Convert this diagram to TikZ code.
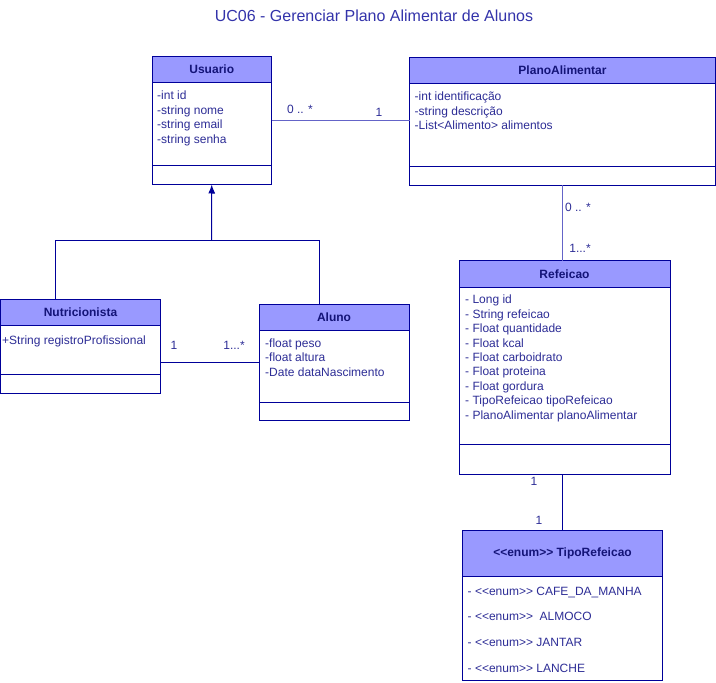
\documentclass[tikz,border=0pt]{standalone}
\usepackage{fontspec}
\setmainfont{Liberation Sans}
\usetikzlibrary{positioning,arrows.meta}

\definecolor{umlline}{RGB}{0,0,153}
\definecolor{umlfill}{RGB}{153,153,255}
\definecolor{umlhead}{RGB}{20,20,120}
\definecolor{umltext}{RGB}{45,45,150}
\definecolor{assocline}{RGB}{100,100,200}
\definecolor{titletext}{RGB}{51,51,170}

\newcommand\stereo[1]{{<}{<}#1{>}{>}}

\begin{document}
\begin{tikzpicture}[
    x=1pt, y=-1pt,
    header/.style={draw=umlline, fill=umlfill, line width=1pt, outer sep=0pt, inner sep=0pt, anchor=north west, text=umlhead, font=\fontsize{12}{14}\selectfont\bfseries},
    compart/.style={draw=umlline, fill=white, line width=1pt, outer sep=0pt, inner sep=0pt},
    attr/.style={anchor=north west, inner sep=0pt, align=left, text=umltext, font=\fontsize{12}{14.4}\selectfont},
    mult/.style={inner sep=0pt, text=umltext, font=\fontsize{12}{14}\selectfont},
    link/.style={draw=umlline, line width=1pt},
    assoc/.style={draw=assocline, line width=1pt},
    gen/.style={link, -{Latex[length=9pt,width=7pt]}}
]
\useasboundingbox (0,0) rectangle (716,683);

% Title
\node[text=titletext, font=\fontsize{16}{18}\selectfont] (title) at (374,16) {UC06 - Gerenciar Plano Alimentar de Alunos};

% Define classes
\node[header, minimum width=119.5pt, minimum height=26pt] (usuario) at (152,56.5) {\raisebox{-1pt}{Usuario}};
\node[compart, below=0pt of usuario, minimum width=119.5pt, minimum height=83pt] (usuarioA) {};
\node[compart, below=0pt of usuarioA, minimum width=119.5pt, minimum height=19pt] (usuarioM) {};
\node[attr] (usuarioT) at ([xshift=5pt,yshift=-8.5pt]usuarioA.north west) {-int id\\-string nome\\-string email\\-string senha};

\node[header, minimum width=306pt, minimum height=26.5pt] (plano) at (409.5,57) {\raisebox{-1pt}{PlanoAlimentar}};
\node[compart, below=0pt of plano, minimum width=306pt, minimum height=83pt] (planoA) {};
\node[compart, below=0pt of planoA, minimum width=306pt, minimum height=18.5pt] (planoM) {};
\node[attr] (planoT) at ([xshift=5pt,yshift=-8.5pt]planoA.north west) {-int identificação\\-string descrição\\-List<Alimento> alimentos};

\node[header, minimum width=160pt, minimum height=26.5pt] (nutri) at (0.5,299) {\raisebox{-1pt}{Nutricionista}};
\node[compart, below=0pt of nutri, minimum width=160pt, minimum height=48.5pt] (nutriA) {};
\node[compart, below=0pt of nutriA, minimum width=160pt, minimum height=19pt] (nutriM) {};
\node[attr] (nutriT) at ([xshift=1.5pt,yshift=-10pt]nutriA.north west) {+String registroProfissional};

\node[header, minimum width=150pt, minimum height=26pt] (aluno) at (259,304) {\raisebox{-1pt}{Aluno}};
\node[compart, below=0pt of aluno, minimum width=150pt, minimum height=72pt] (alunoA) {};
\node[compart, below=0pt of alunoA, minimum width=150pt, minimum height=18pt] (alunoM) {};
\node[attr] (alunoT) at ([xshift=6pt,yshift=-8.5pt]alunoA.north west) {-float peso\\-float altura\\-Date dataNascimento};

\node[header, minimum width=211pt, minimum height=26.5pt] (refeicao) at (459,260.5) {\raisebox{-1pt}{Refeicao}};
\node[compart, below=0pt of refeicao, minimum width=211pt, minimum height=157pt] (refeicaoA) {};
\node[compart, below=0pt of refeicaoA, minimum width=211pt, minimum height=30pt] (refeicaoM) {};
\node[attr] (refeicaoT) at ([xshift=6pt,yshift=-8pt]refeicaoA.north west) {- Long id\\- String refeicao\\- Float quantidade\\- Float kcal\\- Float carboidrato\\- Float proteina\\- Float gordura\\- TipoRefeicao tipoRefeicao\\- PlanoAlimentar planoAlimentar};

\node[header, minimum width=200pt, minimum height=46pt] (tipo) at (462.5,530.5) {\stereo{enum} TipoRefeicao};
\node[compart, below=0pt of tipo, minimum width=200pt, minimum height=104pt] (tipoA) {};
\node[attr, font=\fontsize{12}{25.7}\selectfont] (tipoT) at ([xshift=5pt,yshift=-10pt]tipoA.north west) {- \stereo{enum} CAFE\_DA\_MANHA\\- \stereo{enum}\ \ ALMOCO\\- \stereo{enum} JANTAR\\- \stereo{enum} LANCHE};

% Generalization
\coordinate (genjoin) at (211.5,240);
\draw[link] ([xshift=-25pt]nutri.north) |- (genjoin);
\draw[link] ([xshift=-15pt]aluno.north) |- (genjoin);
\draw[gen] (genjoin) -- (usuarioM.south);

% Associations
\draw[assoc] ([yshift=4pt]usuarioA.east) -- ([yshift=4pt]usuarioA.east -| planoA.west);
\draw[link] ([yshift=-12.5pt]nutriA.east) -- ([yshift=-12.5pt]nutriA.east -| alunoA.west);
\draw[assoc] (planoM.south) -- (planoM.south |- refeicao.north);
\draw[link] (tipo.north) -- (tipo.north |- refeicaoM.south);

% Multiplicities
\node[mult] (m1) at (300,109) {0 .. *};
\node[mult] (m2) at (379,112) {1};
\node[mult] (m3) at (174,345) {1};
\node[mult] (m4) at (234,345) {1...*};
\node[mult] (m5) at (578,207) {0 .. *};
\node[mult] (m6) at (580,248) {1...*};
\node[mult] (m7) at (534,481) {1};
\node[mult] (m8) at (539,520) {1};

\end{tikzpicture}
\end{document}
